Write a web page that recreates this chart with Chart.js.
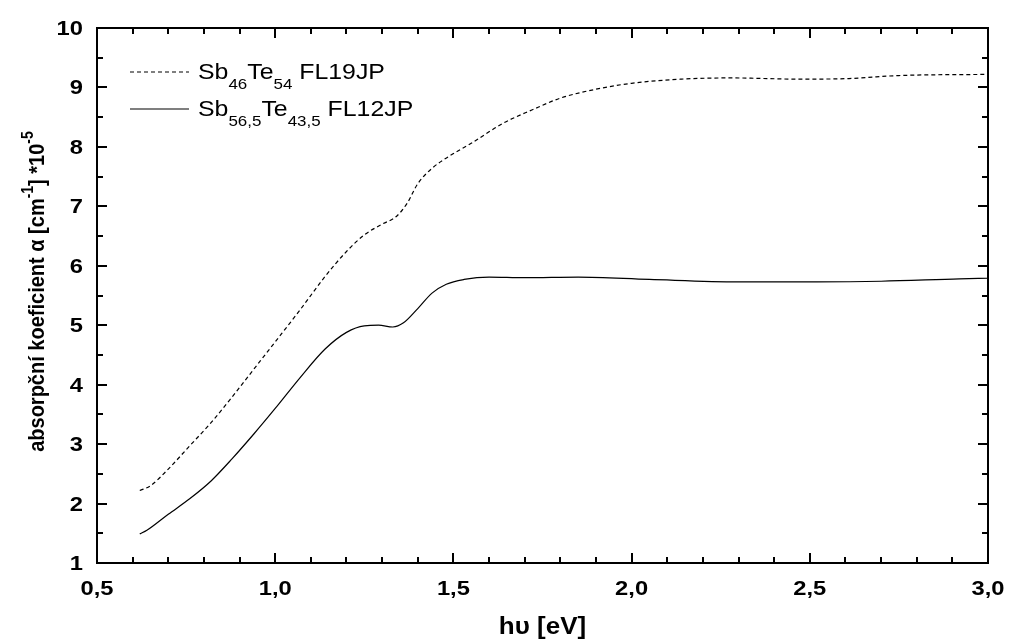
<!DOCTYPE html>
<html>
<head>
<meta charset="utf-8">
<script src="https://cdn.jsdelivr.net/npm/chart.js@4/dist/chart.umd.min.js"></script>
<style>
  body { margin: 0; background: #fff; }
  #wrap { width: 1010px; height: 642px; }
</style>
</head>
<body>
<div id="wrap"><canvas id="absChart" width="1010" height="642"></canvas></div>
<script>
// photon energy [eV] and absorption coefficient (*1e-5) for both films
const energyA = [0.62, 0.65, 0.70, 0.76, 0.82, 0.88, 0.94, 1.00, 1.07, 1.14, 1.20, 1.25, 1.30, 1.34, 1.37, 1.40, 1.44, 1.49, 1.55, 1.64, 1.72, 1.80, 1.90, 2.00, 2.14, 2.28, 2.47, 2.61, 2.75, 3.00];
const alphaA  = [2.22, 2.30, 2.58, 2.97, 3.36, 3.80, 4.26, 4.72, 5.26, 5.82, 6.24, 6.52, 6.70, 6.83, 7.05, 7.38, 7.64, 7.85, 8.06, 8.40, 8.62, 8.82, 8.97, 9.07, 9.14, 9.16, 9.14, 9.15, 9.20, 9.22];

const energyB = [0.62, 0.64, 0.70, 0.76, 0.82, 0.88, 0.94, 1.00, 1.07, 1.14, 1.20, 1.25, 1.29, 1.33, 1.36, 1.40, 1.44, 1.48, 1.53, 1.60, 1.70, 1.85, 2.05, 2.30, 2.52, 2.70, 2.92, 3.00];
const alphaB  = [1.49, 1.55, 1.82, 2.08, 2.38, 2.76, 3.17, 3.60, 4.12, 4.60, 4.88, 4.99, 5.00, 4.97, 5.04, 5.28, 5.54, 5.69, 5.77, 5.81, 5.80, 5.81, 5.77, 5.73, 5.73, 5.74, 5.78, 5.79];

// legend entries: [text, subscript] pieces
const legendA = [['Sb', '46'], ['Te', '54'], [' FL19JP', '']];
const legendB = [['Sb', '56,5'], ['Te', '43,5'], [' FL12JP', '']];
const yTitle  = [['absorpční koeficient α [cm', '-1'], ['] *10', '-5']];

const xTicks = [0.5, 1.0, 1.5, 2.0, 2.5, 3.0];
const yTicks = [1, 2, 3, 4, 5, 6, 7, 8, 9, 10];

const toPoints = (xs, ys) => xs.map((x, i) => ({ x: x, y: ys[i] }));
const fmt = v => v.toFixed(1).replace('.', ',');

const FONT = '"Liberation Sans", Arial, sans-serif';
const STRETCH = 1.13; // the original text is a bit wider than Arial

// text with sub/superscripts, drawn from x0 on the current baseline; returns width
function drawRich(ctx, parts, x0, size, subSize, bold, shift, measureOnly) {
    let cx = x0;
    parts.forEach(p => {
        ctx.font = (bold ? 'bold ' : '') + size + 'px ' + FONT;
        if (!measureOnly) ctx.fillText(p[0], cx, 0);
        cx += ctx.measureText(p[0]).width;
        if (p[1]) {
            ctx.font = (bold ? 'bold ' : '') + subSize + 'px ' + FONT;
            if (!measureOnly) ctx.fillText(p[1], cx, shift);
            cx += ctx.measureText(p[1]).width;
        }
    });
    return cx - x0;
}

function stretchedText(ctx, text, x, y, align) {
    ctx.save();
    ctx.translate(x, y);
    ctx.scale(STRETCH, 1);
    ctx.textAlign = align;
    ctx.fillText(text, 0, 0);
    ctx.restore();
}

const framePlugin = {
    id: 'frame',
    afterDraw(chart) {
        const ctx = chart.ctx;
        const a = chart.chartArea;
        const xs = chart.scales.x, ys = chart.scales.y;
        ctx.save();
        ctx.strokeStyle = '#000';
        ctx.fillStyle = '#000';
        ctx.lineWidth = 2;
        ctx.strokeRect(a.left, a.top, a.right - a.left, a.bottom - a.top);

        // inward ticks on all four sides
        ctx.beginPath();
        for (let i = 0; i <= 25; i++) {
            const px = Math.round(xs.getPixelForValue(0.5 + i * 0.1));
            const len = (i % 5 === 0) ? 10 : 6;
            ctx.moveTo(px, a.bottom); ctx.lineTo(px, a.bottom - len);
            ctx.moveTo(px, a.top); ctx.lineTo(px, a.top + len);
        }
        for (let i = 0; i <= 18; i++) {
            const py = Math.round(ys.getPixelForValue(1 + i * 0.5));
            const len = (i % 2 === 0) ? 10 : 6;
            ctx.moveTo(a.left, py); ctx.lineTo(a.left + len, py);
            ctx.moveTo(a.right, py); ctx.lineTo(a.right - len, py);
        }
        ctx.stroke();

        // tick labels
        ctx.textBaseline = 'alphabetic';
        ctx.font = 'bold 21px ' + FONT;
        xTicks.forEach(v => stretchedText(ctx, fmt(v), xs.getPixelForValue(v), 595, 'center'));
        yTicks.forEach(v => stretchedText(ctx, String(v), 83, ys.getPixelForValue(v) + 7, 'right'));

        // legend
        ctx.textAlign = 'left';
        ctx.lineWidth = 1.2;
        ctx.setLineDash([4, 3]);
        ctx.beginPath(); ctx.moveTo(130, 72); ctx.lineTo(189, 72); ctx.stroke();
        ctx.setLineDash([]);
        ctx.beginPath(); ctx.moveTo(130, 109); ctx.lineTo(189, 109); ctx.stroke();
        [[legendA, 79], [legendB, 116]].forEach(([parts, by]) => {
            ctx.save();
            ctx.translate(198, by);
            ctx.scale(STRETCH, 1);
            drawRich(ctx, parts, 0, 22, 15, false, 10);
            ctx.restore();
        });

        // x axis title
        ctx.font = 'bold 23px ' + FONT;
        stretchedText(ctx, 'h\u03c5 [eV]', (a.left + a.right) / 2, 634, 'center');

        // y axis title, rotated, with superscripts
        const w = drawRich(ctx, yTitle, 0, 20, 14, true, -10, true);
        ctx.translate(44, (a.top + a.bottom) / 2 - 4);
        ctx.scale(STRETCH, 1);
        ctx.rotate(-Math.PI / 2);
        drawRich(ctx, yTitle, -w / 2, 20, 14, true, -10);
        ctx.restore();
    }
};

const absChart = new Chart(document.getElementById('absChart').getContext('2d'), {
    type: 'scatter',
    data: {
        datasets: [{
            label: 'Sb46Te54 FL19JP',
            data: toPoints(energyA, alphaA),
            showLine: true,
            borderColor: '#000',
            borderWidth: 1.2,
            borderDash: [4, 3],
            pointRadius: 0,
            cubicInterpolationMode: 'monotone'
        }, {
            label: 'Sb56,5Te43,5 FL12JP',
            data: toPoints(energyB, alphaB),
            showLine: true,
            borderColor: '#000',
            borderWidth: 1.2,
            pointRadius: 0,
            cubicInterpolationMode: 'monotone'
        }]
    },
    options: {
        responsive: false,
        animation: false,
        layout: { padding: { left: 0, top: 28, right: 22, bottom: 0 } },
        plugins: {
            legend: { display: false },
            tooltip: { enabled: false }
        },
        scales: {
            x: {
                type: 'linear',
                min: 0.5,
                max: 3.0,
                afterFit: s => { s.height = 79; },
                grid: { display: false, drawTicks: false },
                border: { display: false },
                ticks: { display: false }
            },
            y: {
                min: 1,
                max: 10,
                afterFit: s => { s.width = 97; },
                grid: { display: false, drawTicks: false },
                border: { display: false },
                ticks: { display: false }
            }
        }
    },
    plugins: [framePlugin]
});
</script>
</body>
</html>
